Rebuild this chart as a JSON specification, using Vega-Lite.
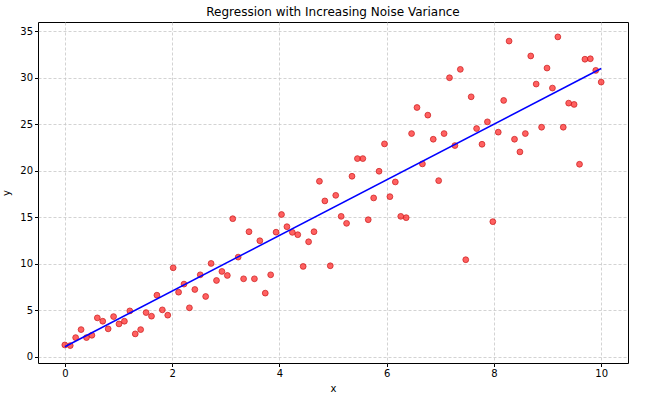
{
  "$schema": "https://vega.github.io/schema/vega-lite/v6.json",
  "autosize": {"type": "none"},
  "width": 590,
  "height": 341,
  "padding": {"left": 38, "top": 22, "right": 28, "bottom": 35},
  "background": "white",
  "title": {"text": "Regression with Increasing Noise Variance", "font": "DejaVu Sans", "fontSize": 12, "fontWeight": "normal", "color": "#000", "offset": 3},
  "config": {
    "view": {"stroke": "#000", "strokeWidth": 1},
    "axis": {
      "labelFont": "DejaVu Sans", "labelFontSize": 10, "labelColor": "#000",
      "titleFont": "DejaVu Sans", "titleFontSize": 10, "titleFontWeight": "normal", "titleColor": "#000",
      "tickColor": "#000", "tickSize": 3.5, "domain": false,
      "grid": true, "gridColor": "#c8c8c8", "gridDash": [3, 2], "gridWidth": 0.8
    }
  },
  "datasets": {
    "pts": [
      {"x": 0.0, "y": 1.29}, {"x": 0.101, "y": 1.22}, {"x": 0.202, "y": 2.08}, {"x": 0.303, "y": 2.94}, {"x": 0.404, "y": 2.08},
      {"x": 0.505, "y": 2.33}, {"x": 0.606, "y": 4.2}, {"x": 0.707, "y": 3.84}, {"x": 0.808, "y": 3.02}, {"x": 0.909, "y": 4.34},
      {"x": 1.01, "y": 3.55}, {"x": 1.111, "y": 3.84}, {"x": 1.212, "y": 4.95}, {"x": 1.313, "y": 2.48}, {"x": 1.414, "y": 2.94},
      {"x": 1.515, "y": 4.77}, {"x": 1.616, "y": 4.38}, {"x": 1.717, "y": 6.64}, {"x": 1.818, "y": 5.06}, {"x": 1.919, "y": 4.49},
      {"x": 2.02, "y": 9.58}, {"x": 2.121, "y": 6.96}, {"x": 2.222, "y": 7.83}, {"x": 2.323, "y": 5.28}, {"x": 2.424, "y": 7.25},
      {"x": 2.525, "y": 8.83}, {"x": 2.626, "y": 6.5}, {"x": 2.727, "y": 10.05}, {"x": 2.828, "y": 8.22}, {"x": 2.929, "y": 9.19},
      {"x": 3.03, "y": 8.76}, {"x": 3.131, "y": 14.86}, {"x": 3.232, "y": 10.73}, {"x": 3.333, "y": 8.4}, {"x": 3.434, "y": 13.46},
      {"x": 3.535, "y": 8.4}, {"x": 3.636, "y": 12.49}, {"x": 3.737, "y": 6.86}, {"x": 3.838, "y": 8.83}, {"x": 3.939, "y": 13.41},
      {"x": 4.04, "y": 15.31}, {"x": 4.141, "y": 14.0}, {"x": 4.242, "y": 13.39}, {"x": 4.343, "y": 13.14}, {"x": 4.444, "y": 9.73},
      {"x": 4.545, "y": 12.38}, {"x": 4.646, "y": 13.46}, {"x": 4.747, "y": 18.88}, {"x": 4.848, "y": 16.77}, {"x": 4.949, "y": 9.8},
      {"x": 5.051, "y": 17.37}, {"x": 5.152, "y": 15.11}, {"x": 5.253, "y": 14.36}, {"x": 5.354, "y": 19.42}, {"x": 5.455, "y": 21.32},
      {"x": 5.556, "y": 21.32}, {"x": 5.657, "y": 14.75}, {"x": 5.758, "y": 17.09}, {"x": 5.859, "y": 19.96}, {"x": 5.96, "y": 22.9},
      {"x": 6.061, "y": 17.23}, {"x": 6.162, "y": 18.81}, {"x": 6.263, "y": 15.11}, {"x": 6.364, "y": 14.97}, {"x": 6.465, "y": 24.01},
      {"x": 6.566, "y": 26.81}, {"x": 6.667, "y": 20.75}, {"x": 6.768, "y": 25.99}, {"x": 6.869, "y": 23.4}, {"x": 6.97, "y": 18.95},
      {"x": 7.071, "y": 24.01}, {"x": 7.172, "y": 30.01}, {"x": 7.273, "y": 22.72}, {"x": 7.374, "y": 30.91}, {"x": 7.475, "y": 10.45},
      {"x": 7.576, "y": 27.96}, {"x": 7.677, "y": 24.55}, {"x": 7.778, "y": 22.86}, {"x": 7.879, "y": 25.27}, {"x": 7.98, "y": 14.54},
      {"x": 8.081, "y": 24.16}, {"x": 8.182, "y": 27.57}, {"x": 8.283, "y": 33.95}, {"x": 8.384, "y": 23.4}, {"x": 8.485, "y": 22.04},
      {"x": 8.586, "y": 24.01}, {"x": 8.687, "y": 32.35}, {"x": 8.788, "y": 29.33}, {"x": 8.889, "y": 24.69}, {"x": 8.99, "y": 31.05},
      {"x": 9.091, "y": 28.9}, {"x": 9.192, "y": 34.4}, {"x": 9.293, "y": 24.69}, {"x": 9.394, "y": 27.28}, {"x": 9.495, "y": 27.14},
      {"x": 9.596, "y": 20.71}, {"x": 9.697, "y": 32.0}, {"x": 9.798, "y": 32.05}, {"x": 9.899, "y": 30.8}, {"x": 10.0, "y": 29.54}
    ],
    "fit": [{"x": 0, "y": 1.1}, {"x": 10, "y": 31.0}]
  },
  "layer": [
    {
      "data": {"name": "pts"},
      "mark": {"type": "point", "filled": true, "size": 34, "fill": "#ff0000", "fillOpacity": 0.62, "stroke": "#cc2020", "strokeOpacity": 0.75, "strokeWidth": 1, "clip": true},
      "encoding": {
        "x": {"field": "x", "type": "quantitative", "scale": {"domain": [-0.5, 10.5], "nice": false, "zero": false}, "axis": {"values": [0, 2, 4, 6, 8, 10], "title": "x", "titlePadding": 5}},
        "y": {"field": "y", "type": "quantitative", "scale": {"domain": [-0.65, 36.0], "nice": false, "zero": false}, "axis": {"values": [0, 5, 10, 15, 20, 25, 30, 35], "title": "y", "titlePadding": 8}}
      }
    },
    {
      "data": {"name": "fit"},
      "mark": {"type": "line", "color": "#0000ff", "strokeWidth": 1.5},
      "encoding": {
        "x": {"field": "x", "type": "quantitative"},
        "y": {"field": "y", "type": "quantitative"}
      }
    }
  ]
}
